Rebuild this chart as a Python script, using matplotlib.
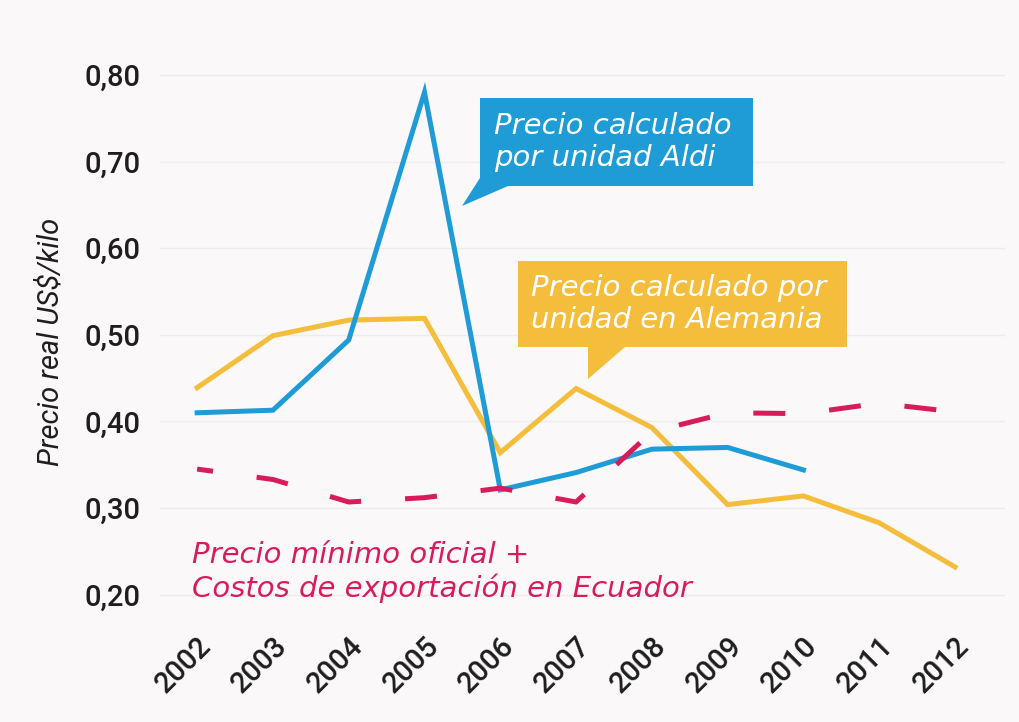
import matplotlib
matplotlib.use("Agg")
import matplotlib.pyplot as plt
from matplotlib.patches import Polygon
from matplotlib.ticker import FuncFormatter, MultipleLocator

# data
years = [2002, 2003, 2004, 2005, 2006, 2007, 2008, 2009, 2010, 2011, 2012]
aldi = [0.410, 0.413, 0.494, 0.780, 0.321, 0.341, 0.368, 0.370, 0.344]
alemania = [0.439, 0.499, 0.517, 0.519, 0.364, 0.438, 0.393, 0.304, 0.314, 0.283, 0.232]
minimo = [0.345, 0.333, 0.307, 0.312, 0.323, 0.307, 0.388, 0.410, 0.409, 0.421, 0.411]

BLUE = "#1f9bd5"
YELLOW = "#f4bd3b"
MAGENTA = "#d81b5b"
BG = "#faf8f9"
TICKFONT = "Roboto"
NOTEFONT = "DejaVu Sans"

W, H = 1019, 722
fig = plt.figure(figsize=(W / 100, H / 100), dpi=100, facecolor=BG)


def px(x, y):
    # pixel position (top-left origin) -> figure fraction
    return (x / W, 1 - y / H)


ax = fig.add_axes([160 / W, 1 - 612 / H, (1005 - 160) / W, (612 - 49) / H])
ax.set_facecolor(BG)
ax.set_xlim(2001.51, 2012.66)
ax.set_ylim(0.18, 0.83)

ax.yaxis.set_major_locator(MultipleLocator(0.1))
ax.yaxis.set_major_formatter(FuncFormatter(lambda v, p: f"{v:.2f}".replace(".", ",")))
ax.set_xticks(years)
ax.set_xticklabels([str(y) for y in years], rotation=45, ha="right", va="top",
                   rotation_mode="anchor", fontsize=21, fontweight="medium",
                   family=TICKFONT, color="#1e1e1e")
for lab in ax.get_yticklabels():
    lab.set_fontsize(21)
    lab.set_fontweight("medium")
    lab.set_family(TICKFONT)
    lab.set_color("#1e1e1e")
ax.tick_params(length=0)
ax.tick_params(axis="x", pad=14)
ax.tick_params(axis="y", pad=14)
ax.grid(axis="y", color="#efecee", lw=1)
ax.set_axisbelow(True)
for s in ax.spines.values():
    s.set_visible(False)

ax.plot(years, alemania, color=YELLOW, lw=3.6, solid_joinstyle="miter")
ax.plot(years[:len(aldi)], aldi, color=BLUE, lw=3.6, solid_joinstyle="miter")
ax.plot(years, minimo, color=MAGENTA, lw=3.6, linestyle=(3.2, (6.4, 8.8)))

fig.text(*px(51, 342), "Precio real US$/kilo", rotation=90, ha="center", va="center",
         fontsize=21, style="italic", family=TICKFONT, color="#1e1e1e")

# callout boxes
blue_box = [px(480, 98), px(753, 98), px(753, 186), px(508, 186), px(462, 206), px(480, 178)]
fig.patches.append(Polygon(blue_box, closed=True, transform=fig.transFigure,
                           facecolor=BLUE, edgecolor="none", zorder=5))
fig.text(*px(494, 142), "Precio calculado\npor unidad Aldi", ha="left", va="center",
         fontsize=21, style="italic", family=NOTEFONT, color="white", linespacing=1.15, zorder=6)

yellow_box = [px(518, 261), px(847, 261), px(847, 347), px(625, 347), px(588, 379),
              px(588, 347), px(518, 347)]
fig.patches.append(Polygon(yellow_box, closed=True, transform=fig.transFigure,
                           facecolor=YELLOW, edgecolor="none", zorder=5))
fig.text(*px(531, 304), "Precio calculado por\nunidad en Alemania", ha="left", va="center",
         fontsize=21, style="italic", family=NOTEFONT, color="white", linespacing=1.15, zorder=6)

fig.text(*px(192, 572), "Precio mínimo oficial +\nCostos de exportación en Ecuador", ha="left",
         va="center", fontsize=21, style="italic", family=NOTEFONT, color=MAGENTA, linespacing=1.15)

fig.savefig("out.png", dpi=100, facecolor=BG)
